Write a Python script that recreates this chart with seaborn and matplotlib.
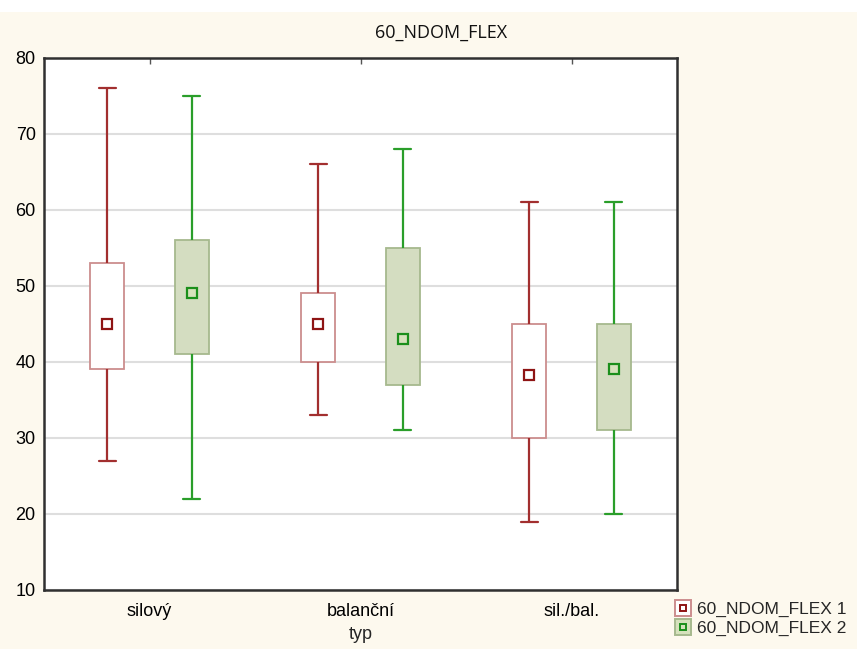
import numpy as np
import pandas as pd
import matplotlib
matplotlib.use("Agg")
import matplotlib.pyplot as plt
import seaborn as sns
from matplotlib.lines import Line2D
from matplotlib.patches import Rectangle
from matplotlib.legend_handler import HandlerTuple

# Categories and the two measured series
categories = ["silový", "balanční", "sil./bal."]
series = ["60_NDOM_FLEX 1", "60_NDOM_FLEX 2"]

# Summary per category: minimum, lower quartile, median, upper quartile, maximum
flex1_min = [27, 33, 19]
flex1_q1 = [39, 40, 30]
flex1_med = [45, 45, 38.3]
flex1_q3 = [53, 49, 45]
flex1_max = [76, 66, 61]

flex2_min = [22, 31, 20]
flex2_q1 = [41, 37, 31]
flex2_med = [49, 43, 39]
flex2_q3 = [56, 55, 45]
flex2_max = [75, 68, 61]

y_ticks = [10, 20, 30, 40, 50, 60, 70, 80]

# Long table: five summary values per box, so quartiles and extremes are exact
rows = []
for name, stats in zip(series, [
    (flex1_min, flex1_q1, flex1_med, flex1_q3, flex1_max),
    (flex2_min, flex2_q1, flex2_med, flex2_q3, flex2_max),
]):
    for i, cat in enumerate(categories):
        for arr in stats:
            rows.append({"typ": cat, "series": name, "value": arr[i]})
df = pd.DataFrame(rows)

# Styling
fills = {"60_NDOM_FLEX 1": "#FFFFFF", "60_NDOM_FLEX 2": "#D6E2BC"}
box_edges = {"60_NDOM_FLEX 1": "#CC8E8E", "60_NDOM_FLEX 2": "#A6B98E"}
line_cols = {"60_NDOM_FLEX 1": "#A22F2F", "60_NDOM_FLEX 2": "#2A9E2A"}
marker_cols = {"60_NDOM_FLEX 1": "#8E1414", "60_NDOM_FLEX 2": "#1B8F1B"}

sns.set_style("white")
plt.rcParams["font.family"] = ["Liberation Sans", "DejaVu Sans"]

fig = plt.figure(figsize=(8.57, 6.49), dpi=100, facecolor="#FDF9EE")
fig.patches.append(Rectangle((0, 1 - 12 / 649), 1, 12 / 649, transform=fig.transFigure,
                             facecolor="white", edgecolor="none", zorder=0))
ax = fig.add_axes([44 / 857, 1 - 590 / 649, (677 - 44) / 857, (590 - 57.5) / 649])
ax.set_facecolor("white")

for name in series:
    sub = df[df["series"] == name]
    sns.boxplot(
        data=sub, x="typ", y="value", hue="series",
        order=categories, hue_order=series, palette=fills,
        dodge=True, width=0.8, gap=0.6, whis=(0, 100),
        linecolor=box_edges[name], linewidth=1.3,
        whiskerprops={"color": line_cols[name], "linewidth": 1.6},
        capprops={"color": line_cols[name], "linewidth": 1.6},
        medianprops={"visible": False},
        showfliers=False, legend=False, ax=ax, zorder=3,
    )

for name in series:
    sub = df[df["series"] == name]
    sns.pointplot(
        data=sub, x="typ", y="value", hue="series",
        order=categories, hue_order=series,
        palette={s: marker_cols[s] for s in series},
        estimator="median", errorbar=None, dodge=0.4,
        markers="s", linestyle="none", legend=False, ax=ax,
        markersize=7, markerfacecolor=fills[name], markeredgewidth=1.6,
        markeredgecolor=marker_cols[name], zorder=5,
    )

ax.set_xlim(-0.5, 2.5)
ax.set_ylim(10, 80)
ax.set_yticks(y_ticks)
ax.yaxis.grid(True, color="#DEDEDE", linewidth=1.5)
ax.set_axisbelow(True)

for sp in ax.spines.values():
    sp.set_color("#303030")
    sp.set_linewidth(1.8)

ax.tick_params(axis="both", direction="in", length=4, width=1, color="#555555",
               labelsize=13, labelcolor="black")
ax.tick_params(axis="x", top=True, pad=9)
ax.tick_params(axis="y", pad=6)

ax.set_xlabel("typ", fontsize=13, labelpad=5)
ax.set_ylabel("")

fig.text(441 / 857, 1 - 33 / 649, "60_NDOM_FLEX", ha="center", va="center",
         fontsize=13, family=["Open Sans", "DejaVu Sans"], color="#111111")

handles = []
for name in series:
    outer = Line2D([], [], marker="s", linestyle="none", markersize=11,
                   markerfacecolor=fills[name], markeredgecolor=box_edges[name],
                   markeredgewidth=1.4)
    inner = Line2D([], [], marker="s", linestyle="none", markersize=5,
                   markerfacecolor=fills[name], markeredgecolor=marker_cols[name],
                   markeredgewidth=1.4)
    handles.append((outer, inner))

fig.legend(handles, series, handler_map={tuple: HandlerTuple(ndivide=1)},
           loc="upper left", bbox_to_anchor=(674 / 857, 1 - 602 / 649),
           frameon=False, fontsize=12.5, handlelength=1.0, handletextpad=0.35,
           labelspacing=0.2, borderaxespad=0, borderpad=0)

fig.savefig("out.png", dpi=100, facecolor=fig.get_facecolor())
